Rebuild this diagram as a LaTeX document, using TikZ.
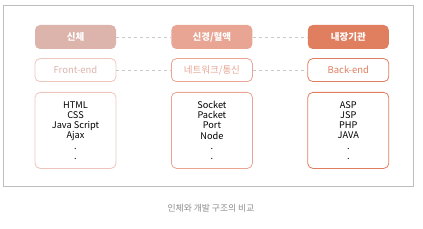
\documentclass[tikz,border=0pt]{standalone}
\usepackage{fontspec}
\setmainfont{Noto Sans CJK KR}
\usepackage{xcolor}
\usepackage{tikz}
\usetikzlibrary{positioning}
\definecolor{pale}{HTML}{DDB4AC}
\definecolor{mid}{HTML}{E8A593}
\definecolor{deep}{HTML}{E07F60}
\definecolor{paleline}{HTML}{EEC6BC}
\definecolor{frameline}{HTML}{BEBEBE}
\definecolor{dashline}{HTML}{C9C9C9}
\definecolor{captext}{HTML}{8C8C8C}
\tikzset{
  head box/.style={
    rounded corners=5pt,
    minimum width=81pt, minimum height=24pt,
    text=white, font=\fontsize{9.5}{11}\selectfont\bfseries,
    inner sep=2pt
  },
  role box/.style={
    draw, thick, fill=white, rounded corners=5pt,
    minimum width=81pt, minimum height=23pt,
    font=\fontsize{9.5}{11}\selectfont,
    inner sep=2pt
  },
  list box/.style={
    draw, thick, fill=white, rounded corners=5pt,
    minimum width=81pt, minimum height=76pt,
    align=center, font=\fontsize{9.2}{10.2}\selectfont,
    inner sep=2pt
  },
  link/.style={dashed, thick, color=dashline}
}

\begin{document}
\begin{tikzpicture}[x=1pt, y=1pt, node distance=55pt]
  \useasboundingbox (0,0) rectangle (423,228);
  \draw[frameline, semithick] (3,42) rectangle (413,223);

  % top row
  \node[head box, fill=pale] (body) at (75.5,191) {신체};
  \node[head box, fill=mid, right=of body] (nerve) {신경/혈액};
  \node[head box, fill=deep, right=of nerve] (organ) {내장기관};

  % second row
  \node[role box, draw=paleline, text=pale, below=9pt of body] (front) {Front-end};
  \node[role box, draw=mid, text=mid, below=9pt of nerve] (net) {네트워크/통신};
  \node[role box, draw=deep, text=deep, below=9pt of organ] (back) {Back-end};

  % lists
  \node[list box, draw=paleline, below=10pt of front] (frontlist) {HTML\\CSS\\Java Script\\Ajax\\.\\.};
  \node[list box, draw=mid, below=10pt of net] (netlist) {Socket\\Packet\\Port\\Node\\.\\.};
  \node[list box, draw=deep, below=10pt of back] (backlist) {ASP\\JSP\\PHP\\JAVA\\.\\.};

  \draw[link] (body) -- (nerve);
  \draw[link] (nerve) -- (organ);
  \draw[link] (front) -- (net);
  \draw[link] (net) -- (back);

  \node[text=captext, font=\fontsize{8.8}{11}\selectfont] (caption) at (211,20) {인체와 개발 구조의 비교};
\end{tikzpicture}
\end{document}
